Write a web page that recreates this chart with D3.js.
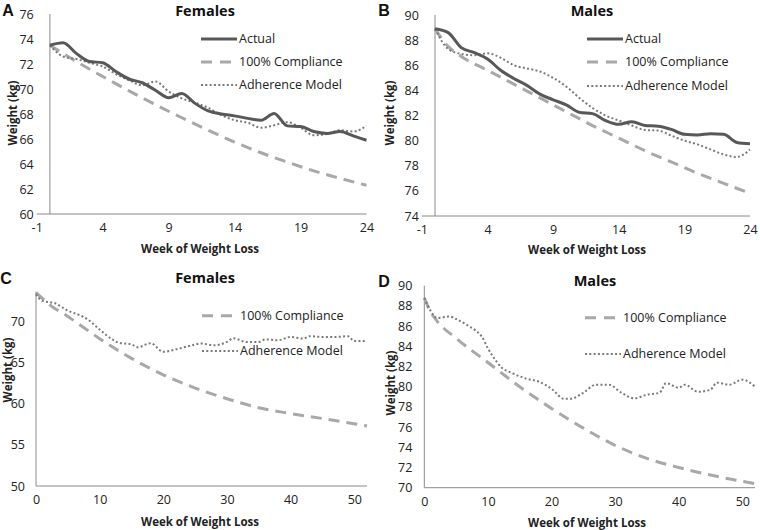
<!DOCTYPE html>
<html><head><meta charset="utf-8">
<script src="https://cdn.jsdelivr.net/npm/d3@7/dist/d3.min.js"></script>
<style>
html,body{margin:0;padding:0;background:#fff;}
svg{display:block;font-family:"Open Sans",sans-serif;}
</style></head><body>
<svg id="chart" width="760" height="530"></svg>
<script>
// ---------- Panel A: Females, 24 weeks ----------
const weeksA = [0,1,2,3,4,5,6,7,8,9,10,11,12,13,14,15,16,17,18,19,20,21,22,23,24];
const actualA = [73.5,73.7,72.85,72.2,72.1,71.4,70.8,70.5,69.9,69.3,69.65,68.85,68.25,68.0,67.85,67.65,67.5,68.05,67.05,67.0,66.6,66.45,66.6,66.25,65.9];
const adherenceA = [73.5,72.6,72.4,72.1,71.8,71.2,70.7,70.3,70.6,69.8,69.25,68.9,68.5,67.9,67.5,67.3,66.9,67.1,67.35,66.9,66.3,66.4,66.7,66.6,67.05];
const compWeeksA = [0,2,4,6,8,10,12,14,16,18,20,22,24];
const complianceA = [73.5,72.2,71.0,69.85,68.75,67.7,66.7,65.75,64.9,64.15,63.45,62.85,62.3];

// ---------- Panel B: Males, 24 weeks ----------
const weeksB = [0,1,2,3,4,5,6,7,8,9,10,11,12,13,14,15,16,17,18,19,20,21,22,23,24];
const actualB = [88.9,88.6,87.4,87.0,86.5,85.6,84.95,84.4,83.7,83.25,82.85,82.25,82.15,81.6,81.3,81.5,81.2,81.15,80.9,80.5,80.45,80.55,80.5,79.85,79.75];
const adherenceB = [88.9,87.3,86.9,86.8,86.95,86.6,86.0,85.75,85.5,85.0,84.3,83.4,82.6,82.0,81.6,81.2,80.85,80.8,80.4,80.0,79.7,79.3,78.9,78.7,79.3];
const compWeeksB = [0,1,2,4,6,8,10,12,14,16,18,20,22,24];
const complianceB = [88.9,87.5,86.7,85.6,84.5,83.4,82.3,81.2,80.2,79.2,78.3,77.4,76.6,75.8];

// ---------- Panel C: Females, 52 weeks ----------
const compWeeksC = [0,1,2,5,10,15,20,25,30,35,40,45,52];
const complianceC = [73.5,72.8,72.1,70.6,67.9,65.5,63.5,61.9,60.6,59.5,58.8,58.2,57.3];
const adhWeeksC = [0,1,3,5,7,8,10,12,13,15,16,18,20,22,24,26,28,30,31,33,35,36,38,40,42,43,45,47,49,50,52];
const adherenceC = [73.3,72.5,72.2,71.3,70.7,70.3,69.0,67.8,67.4,67.2,66.85,67.35,66.3,66.6,67.0,67.3,67.1,67.5,67.95,67.5,67.5,67.8,67.7,68.1,67.9,68.2,68.1,68.1,68.2,67.6,67.6];

// ---------- Panel D: Males, 52 weeks ----------
const compWeeksD = [0,1,2,5,10,15,20,25,30,35,40,45,52];
const complianceD = [88.8,87.4,86.5,84.8,82.4,80.0,77.85,75.9,74.2,72.9,72.0,71.25,70.4];
const adhWeeksD = [0,1,2,4,5,7,8,9,10,11,12,14,16,18,20,22,23,25,27,29,31,33,35,37,38,40,41,43,45,46,48,50,52];
const adherenceD = [88.8,87.5,86.8,86.95,86.7,86.0,85.6,85.0,83.8,82.8,82.0,81.3,80.8,80.5,79.8,78.8,78.8,79.4,80.2,80.2,79.4,78.85,79.2,79.4,80.35,79.9,80.2,79.5,79.7,80.4,80.2,80.7,80.0];

// ---------- tick labels ----------
const xTicksShort = [-1,4,9,14,19,24];
const xTicksLong = [0,10,20,30,40,50];
const yTicksA = [60,62,64,66,68,70,72,74,76];
const yTicksB = [74,76,78,80,82,84,86,88,90];
const yTicksC = [50,55,60,65,70];
const yTicksD = [70,72,74,76,78,80,82,84,86,88,90];

const legendLabels = {actual:"Actual", comp:"100% Compliance", adh:"Adherence Model"};
const titles = ["Females","Males","Females","Males"];
const letters = ["A","B","C","D"];

const styles = {
  actual:{stroke:"#585858", width:3, dash:null},
  comp:{stroke:"#a8a8a8", width:3, dash:"11,7"},
  adh:{stroke:"#7a7a7a", width:2, dash:"2,2.3"}
};

const svg = d3.select("#chart");
const AXIS = "#8a8a8a";
const fmt = d => String(d);

function panel(cfg){
  const g = svg.append("g");
  const x = d3.scaleLinear().domain(cfg.xDomain).range(cfg.xRange);
  const y = d3.scaleLinear().domain(cfg.yDomain).range(cfg.yRange);
  const x0 = cfg.xRange[0];
  // x axis
  const xAx = d3.axisBottom(x).tickValues(cfg.xTicks).tickSize(0).tickPadding(9).tickFormat(fmt);
  const gx = g.append("g").attr("transform",`translate(0,${cfg.yRange[0]})`).call(xAx);
  gx.select(".domain").attr("stroke",AXIS).attr("d",`M${x0},0H${cfg.xRange[1]}`);
  gx.selectAll("text").attr("font-size",12.5).attr("fill","#222").attr("font-family","Open Sans");
  // y axis at crossing
  const yAx = d3.axisLeft(y).tickValues(cfg.yTicks).tickSize(0).tickFormat(fmt);
  const gy = g.append("g").attr("transform",`translate(${x(cfg.yCross)},0)`).call(yAx);
  gy.select(".domain").attr("stroke",AXIS).attr("d",`M0,${cfg.yRange[0]}V${cfg.yRange[1]}`);
  gy.selectAll("text").attr("font-size",12.5).attr("fill","#222").attr("font-family","Open Sans")
    .attr("x", x0 - x(cfg.yCross) - cfg.yLabelPad);
  // series
  const line = d3.line().x(d=>x(d[0])).y(d=>y(d[1])).curve(d3.curveMonotoneX);
  cfg.series.forEach(s=>{
    const st = styles[s.key];
    const pts = d3.zip(s.w, s.v);
    g.append("path").attr("d",line(pts)).attr("fill","none")
      .attr("stroke",st.stroke).attr("stroke-width",st.width)
      .attr("stroke-dasharray",st.dash).attr("stroke-linejoin","round");
  });
  // legend
  cfg.legend.forEach((L,i)=>{
    const st = styles[L.key];
    g.append("line").attr("x1",cfg.legX).attr("x2",cfg.legX+36).attr("y1",L.y).attr("y2",L.y)
      .attr("stroke",st.stroke).attr("stroke-width",st.width).attr("stroke-dasharray",L.key==="comp"?"11,8":st.dash);
    g.append("text").attr("x",cfg.legX+38).attr("y",L.y).attr("dy","0.35em")
      .attr("font-size",12.5).attr("fill","#222").text(legendLabels[L.key]);
  });
  // title
  g.append("text").attr("x",cfg.titleX).attr("y",cfg.titleY).attr("dy","0.35em").attr("text-anchor","middle")
    .attr("font-size",14.5).attr("font-weight","bold").attr("fill","#111").text(cfg.title);
  g.append("text").attr("x",cfg.letterX).attr("y",cfg.titleY).attr("dy","0.35em").attr("text-anchor","middle")
    .attr("font-size",16).attr("font-weight","bold").attr("fill","#111").attr("font-family","Liberation Sans").text(cfg.letter);
  // axis titles
  g.append("text").attr("x",cfg.xtX).attr("y",cfg.xtY).attr("dy","0.35em").attr("text-anchor","middle")
    .attr("font-size",11.5).attr("font-weight","bold").attr("fill","#222").text("Week of Weight Loss");
  g.append("text").attr("transform",`translate(${cfg.ytX},${cfg.ytY}) rotate(-90)`).attr("dy","0.35em")
    .attr("text-anchor","middle").attr("font-size",11.5).attr("font-weight","bold").attr("fill","#222").text("Weight (kg)");
}

panel({xDomain:[-1,24], xRange:[36.7,366.5], yDomain:[60,76], yRange:[214,14], yCross:0, yLabelPad:3,
  xTicks:xTicksShort, yTicks:yTicksA,
  series:[{key:"comp",w:compWeeksA,v:complianceA},{key:"adh",w:weeksA,v:adherenceA},{key:"actual",w:weeksA,v:actualA}],
  legX:201, legend:[{key:"actual",y:39},{key:"comp",y:62},{key:"adh",y:85}],
  title:titles[0], letter:letters[0], titleX:205, titleY:10.5, letterX:8, xtX:200, xtY:249, ytX:13, ytY:113});

panel({xDomain:[-1,24], xRange:[421.9,750], yDomain:[74,90], yRange:[216,15], yCross:0, yLabelPad:3,
  xTicks:xTicksShort, yTicks:yTicksB,
  series:[{key:"comp",w:compWeeksB,v:complianceB},{key:"adh",w:weeksB,v:adherenceB},{key:"actual",w:weeksB,v:actualB}],
  legX:587, legend:[{key:"actual",y:39},{key:"comp",y:62},{key:"adh",y:86}],
  title:titles[1], letter:letters[1], titleX:592, titleY:10.5, letterX:384, xtX:587, xtY:250, ytX:390, ytY:113});

panel({xDomain:[0,52], xRange:[36,367], yDomain:[50,73.6], yRange:[486,291.7], yCross:0, yLabelPad:11,
  xTicks:xTicksLong, yTicks:yTicksC,
  series:[{key:"comp",w:compWeeksC,v:complianceC},{key:"adh",w:adhWeeksC,v:adherenceC}],
  legX:202, legend:[{key:"comp",y:315.7},{key:"adh",y:351}],
  title:titles[2], letter:letters[2], titleX:205, titleY:278, letterX:6, xtX:200, xtY:522, ytX:8, ytY:370});

panel({xDomain:[0,52], xRange:[424.3,755], yDomain:[70,90], yRange:[487.7,285.7], yCross:0, yLabelPad:12,
  xTicks:xTicksLong, yTicks:yTicksD,
  series:[{key:"comp",w:compWeeksD,v:complianceD},{key:"adh",w:adhWeeksD,v:adherenceD}],
  legX:585, legend:[{key:"comp",y:317.7},{key:"adh",y:354}],
  title:titles[3], letter:letters[3], titleX:595, titleY:281, letterX:384, xtX:587, xtY:523, ytX:391, ytY:383});
</script>
</body></html>
